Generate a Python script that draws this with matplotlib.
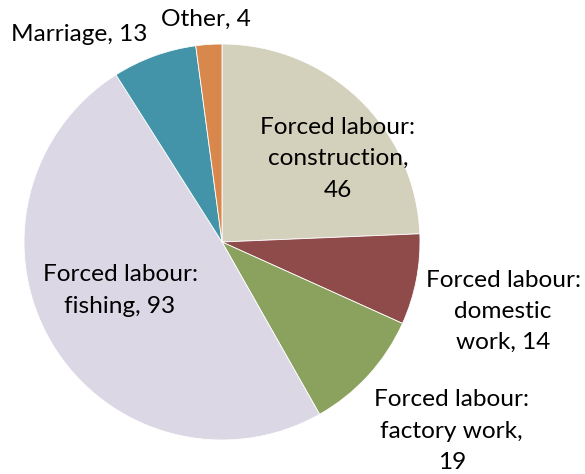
import matplotlib
matplotlib.use("Agg")
import matplotlib.pyplot as plt

labels = ["Forced labour:\nconstruction,\n46",
          "Forced labour:\ndomestic\nwork, 14",
          "Forced labour:\nfactory work,\n19",
          "Forced labour:\nfishing, 93",
          "Marriage, 13",
          "Other, 4"]
values = [46, 14, 19, 93, 13, 4]
colors = ["#D3D0BB", "#8F4A4A", "#8BA25F", "#DCD7E5", "#4494A9", "#D8874D"]

# label centres in data units (pie radius = 1)
label_pos = [(0.585, 0.42), (1.42, -0.35), (1.16, -0.955),
             (-0.515, -0.245), (-0.72, 1.05), (-0.08, 1.125)]

W, H = 585, 474
cx, cy, r = 222, 242, 198

fig = plt.figure(figsize=(W / 100, H / 100), dpi=100)
ax = fig.add_axes([(cx - r) / W, (H - cy - r) / H, 2 * r / W, 2 * r / H])
ax.pie(values, colors=colors, startangle=90, counterclock=False,
       wedgeprops=dict(edgecolor="white", linewidth=0.6))
ax.set_xlim(-1, 1)
ax.set_ylim(-1, 1)
ax.set_aspect("auto")
ax.axis("off")

for lab, (x, y) in zip(labels, label_pos):
    ax.text(x, y, lab, ha="center", va="center", fontsize=17.6,
            family="Lato", linespacing=1.6, clip_on=False)

fig.savefig("out.png", dpi=100)
